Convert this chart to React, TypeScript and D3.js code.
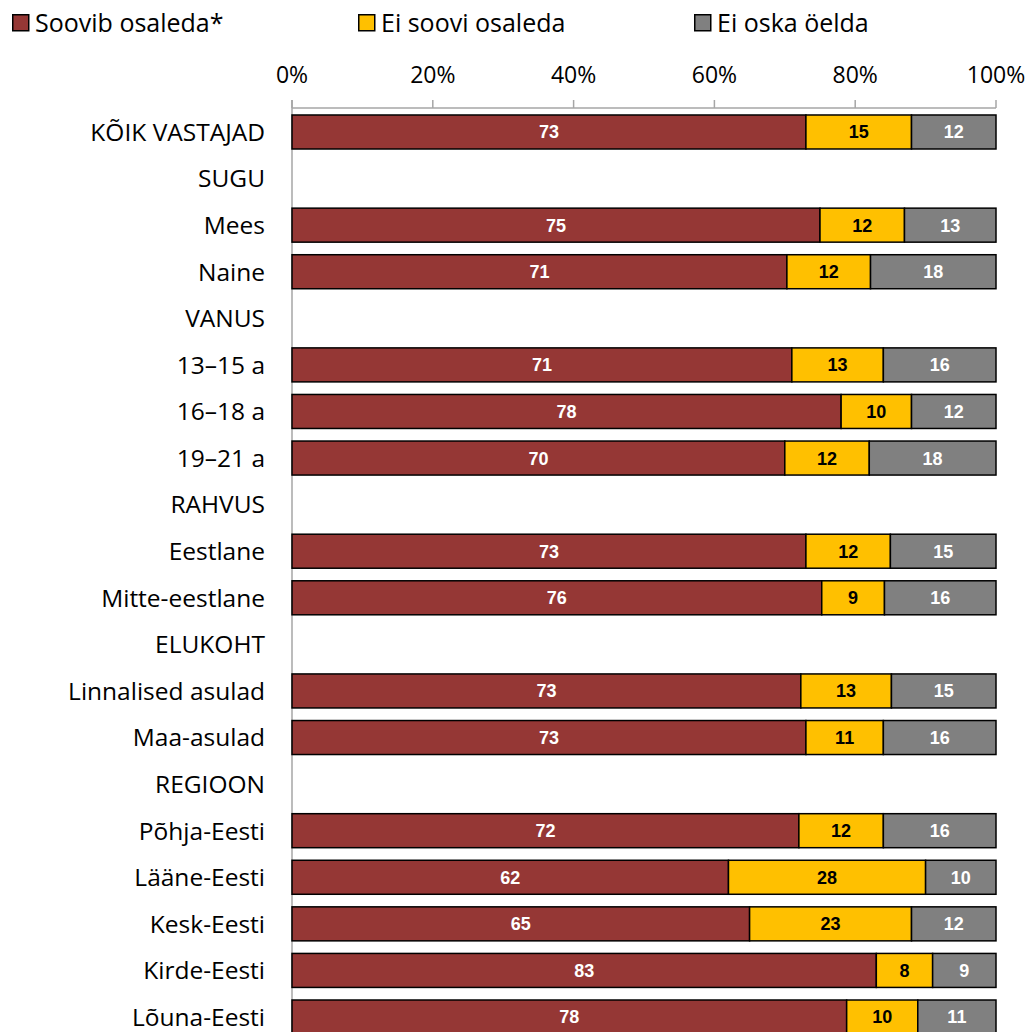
import React from "react";
import * as d3 from "d3";

const categories = [
  "KÕIK VASTAJAD", "SUGU", "Mees", "Naine", "VANUS", "13–15 a", "16–18 a", "19–21 a",
  "RAHVUS", "Eestlane", "Mitte-eestlane", "ELUKOHT", "Linnalised asulad", "Maa-asulad",
  "REGIOON", "Põhja-Eesti", "Lääne-Eesti", "Kesk-Eesti", "Kirde-Eesti", "Lõuna-Eesti",
];
// null = header row without bar
const soovib: (number | null)[] = [73, null, 75, 71, null, 71, 78, 70, null, 73, 76, null, 73, 73, null, 72, 62, 65, 83, 78];
const eiSoovi: (number | null)[] = [15, null, 12, 12, null, 13, 10, 12, null, 12, 9, null, 13, 11, null, 12, 28, 23, 8, 10];
const eiOska: (number | null)[] = [12, null, 13, 18, null, 16, 12, 18, null, 15, 16, null, 15, 16, null, 16, 10, 12, 9, 11];

const seriesNames = ["Soovib osaleda*", "Ei soovi osaleda", "Ei oska öelda"];
const seriesColors = ["#953735", "#FFC000", "#808080"];
const labelColors = ["#FFFFFF", "#000000", "#FFFFFF"];
const ticks = [0, 20, 40, 60, 80, 100];

const W = 1030, H = 1032;
const FONT = "'Open Sans', sans-serif";

export default function App() {
  const x = d3.scaleLinear().domain([0, 100]).range([292, 996]);
  const step = 46.58;
  const top = 108.7;
  const y = d3.scaleBand<string>().domain(categories)
    .range([top, top + categories.length * step])
    .paddingInner(0.27).paddingOuter(0.135);
  const bw = y.bandwidth();
  const series = [soovib, eiSoovi, eiOska];
  const legendX = [12, 358, 694];

  return (
    <svg width={W} height={H} style={{ position: "absolute", left: 0, top: 0, background: "#fff" }}
      fontFamily={FONT}>
      {/* legend */}
      {seriesNames.map((n, i) => (
        <g key={n}>
          <rect x={legendX[i] + 0.75} y={14.75} width={16} height={16} fill={seriesColors[i]} stroke="#000" strokeWidth={1.5} />
          <text x={legendX[i] + 23} y={32} fontSize={25} fill="#000">{n}</text>
        </g>
      ))}
      {/* axis */}
      <line x1={292} x2={996} y1={108} y2={108} stroke="#A6A6A6" strokeWidth={1.5} />
      <line x1={292} x2={292} y1={100} y2={H} stroke="#A6A6A6" strokeWidth={1.5} />
      {ticks.map(t => (
        <g key={t}>
          <line x1={x(t)} x2={x(t)} y1={100} y2={108} stroke="#A6A6A6" strokeWidth={1.5} />
          <text x={x(t)} y={83} fontSize={23} textAnchor="middle" fill="#000">{t}%</text>
        </g>
      ))}
      {/* category labels */}
      {categories.map(c => (
        <text key={c} x={265} y={(y(c) as number) + bw / 2} dy="0.36em" fontSize={24.5} textAnchor="end" fill="#000">{c}</text>
      ))}
      {/* bars */}
      {categories.map((c, ci) => {
        if (soovib[ci] == null) return null;
        const vals = series.map(s => s[ci] as number);
        const total = d3.sum(vals);
        let acc = 0;
        return (
          <g key={c}>
            {vals.map((v, si) => {
              const x0 = x((acc / total) * 100);
              acc += v;
              const x1 = x((acc / total) * 100);
              const yy = y(c) as number;
              return (
                <g key={si}>
                  <rect x={x0} y={yy} width={x1 - x0} height={bw} fill={seriesColors[si]} stroke="#000" strokeWidth={1.5} />
                  <text x={(x0 + x1) / 2} y={yy + bw / 2} dy="0.36em" textAnchor="middle" fontSize={18}
                    fontWeight="bold" fontFamily="'Liberation Sans', Arial, sans-serif" fill={labelColors[si]}>{v}</text>
                </g>
              );
            })}
          </g>
        );
      })}
    </svg>
  );
}
